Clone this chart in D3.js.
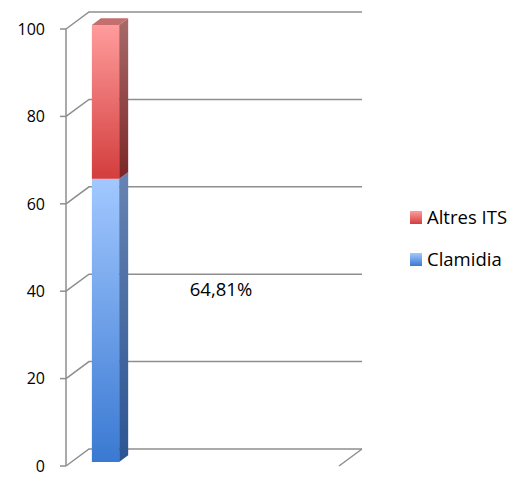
<!DOCTYPE html>
<html>
<head>
<meta charset="utf-8">
<script src="https://cdn.jsdelivr.net/npm/d3@7"></script>
<style>
  body { margin: 0; background: #fff; }
  text { font-family: "Open Sans", sans-serif; fill: #000; }
</style>
</head>
<body>
<script>
// data
var categories = ["Total"];
var seriesNames = ["Clamidia", "Altres ITS"];
var clamidia = [64.81];
var altres = [35.19];
var yTicks = [0, 20, 40, 60, 80, 100];
var labelText = ["64,81%"];

var width = 519,
    height = 483;

// 3d box: front plane and the offset to the back wall
var left = 66,
    right = 339,
    depthX = 23,
    depthY = -17;

// bar sits part way into the box
var barFront = 0.235,
    barBack = 0.626;

var svg = d3.select("body").append("svg")
    .attr("width", width)
    .attr("height", height);

var y = d3.scaleLinear()
    .domain([0, 100])
    .range([466, 29]);

// source sheet leaves room for 4 columns, only the first one is used
var x = d3.scaleBand()
    .domain(categories)
    .range([left, left + (right - left) / 4])
    .paddingInner(0.6)
    .paddingOuter(0.3);

var defs = svg.append("defs");

function gradient(id, top, bottom) {
    var g = defs.append("linearGradient")
        .attr("id", id)
        .attr("x1", 0).attr("y1", 0)
        .attr("x2", 0).attr("y2", 1);
    g.append("stop").attr("offset", "0%").attr("stop-color", top);
    g.append("stop").attr("offset", "100%").attr("stop-color", bottom);
}

gradient("blueFront", "#a2c8ff", "#3a79d2");
gradient("blueSide", "#6783b3", "#2b5592");
gradient("redFront", "#ff9c9c", "#d33d3d");
gradient("redSide", "#a96a6a", "#7b2627");
gradient("blueKey", "#a2c8ff", "#3a79d2");
gradient("redKey", "#ff9c9c", "#d33d3d");

// gridlines (with the slanted bit on the side wall)
var grid = svg.append("g")
    .attr("fill", "none")
    .attr("stroke", "#8e8e8e")
    .attr("stroke-width", 1.5);

grid.selectAll("path")
    .data(yTicks)
    .enter().append("path")
    .attr("d", function(d) {
        var yy = y(d);
        return "M" + left + "," + yy +
            "L" + (left + depthX) + "," + (yy + depthY) +
            "L" + (right + depthX) + "," + (yy + depthY);
    });

// floor edge at the right
grid.append("path")
    .attr("d", "M" + (right + depthX) + "," + (y(0) + depthY) + "L" + right + "," + y(0));

// front axis + ticks
grid.append("path")
    .attr("d", "M" + left + "," + y(100) + "L" + left + "," + y(0));

grid.selectAll("line")
    .data(yTicks)
    .enter().append("line")
    .attr("x1", left - 6)
    .attr("x2", left)
    .attr("y1", function(d) { return y(d); })
    .attr("y2", function(d) { return y(d); });

svg.selectAll(".tick-label")
    .data(yTicks)
    .enter().append("text")
    .attr("class", "tick-label")
    .attr("x", 45)
    .attr("y", function(d) { return y(d); })
    .attr("dy", "0.36em")
    .attr("text-anchor", "end")
    .style("font-size", "16px")
    .text(function(d) { return d; });

// stacked bar
var stack = d3.stack().keys(seriesNames);
var rows = categories.map(function(c, i) {
    return { cat: c, "Clamidia": clamidia[i], "Altres ITS": altres[i] };
});
var layers = stack(rows);

var fills = {
    "Clamidia": ["url(#blueFront)", "url(#blueSide)"],
    "Altres ITS": ["url(#redFront)", "url(#redSide)"]
};

var fdx = barFront * depthX,
    fdy = barFront * depthY,
    bdx = (barBack - barFront) * depthX,
    bdy = (barBack - barFront) * depthY;

layers.forEach(function(layer, li) {
    var g = svg.append("g");
    layer.forEach(function(d) {
        var x0 = x(d.data.cat) + fdx,
            x1 = x0 + x.bandwidth(),
            yTop = y(d[1]) + fdy,
            yBot = y(d[0]) + fdy;

        g.append("rect")
            .attr("x", x0)
            .attr("y", yTop)
            .attr("width", x1 - x0)
            .attr("height", yBot - yTop)
            .attr("fill", fills[layer.key][0]);

        g.append("path")
            .attr("d", "M" + x1 + "," + yBot + "L" + x1 + "," + yTop +
                "L" + (x1 + bdx) + "," + (yTop + bdy) +
                "L" + (x1 + bdx) + "," + (yBot + bdy) + "Z")
            .attr("fill", fills[layer.key][1]);

        if (li === layers.length - 1) {
            g.append("path")
                .attr("d", "M" + x0 + "," + yTop + "L" + x1 + "," + yTop +
                    "L" + (x1 + bdx) + "," + (yTop + bdy) +
                    "L" + (x0 + bdx) + "," + (yTop + bdy) + "Z")
                .attr("fill", "#c46e6e");
        }
    });
});

// data label
svg.append("text")
    .attr("x", (left + right + depthX) / 2 + 7)
    .attr("y", y(clamidia[0] * 0.625))
    .attr("dy", "0.36em")
    .attr("text-anchor", "middle")
    .style("font-size", "18.5px")
    .text(labelText[0]);

// legend
var legendItems = [
    { name: seriesNames[1], fill: "url(#redKey)" },
    { name: seriesNames[0], fill: "url(#blueKey)" }
];

var legend = svg.selectAll(".legend")
    .data(legendItems)
    .enter().append("g")
    .attr("class", "legend")
    .attr("transform", function(d, i) {
        return "translate(410," + (211 + i * 42) + ")";
    });

legend.append("rect")
    .attr("width", 12)
    .attr("height", 13)
    .attr("fill", function(d) { return d.fill; });

legend.append("text")
    .attr("x", 17)
    .attr("y", 13)
    .style("font-size", "18.5px")
    .text(function(d) { return d.name; });
</script>
</body>
</html>
